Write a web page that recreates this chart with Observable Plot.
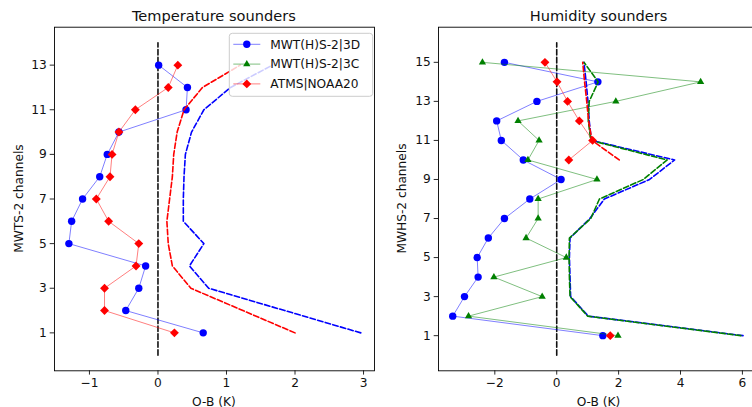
<!DOCTYPE html>
<html><head><meta charset="utf-8">
<script src="https://cdn.jsdelivr.net/npm/d3@7"></script>
<script src="https://cdn.jsdelivr.net/npm/@observablehq/plot@0.6"></script>
<style>
html,body{margin:0;padding:0;background:#fff;overflow:hidden;width:752px;height:407px}
#wrap{position:relative;width:752px;height:407px;overflow:hidden;font-family:"DejaVu Sans",sans-serif}
#wrap svg{position:absolute;top:0}
</style></head><body><div id="wrap"></div>
<script>
// ---------- data ----------
const seriesNames = ["MWT(H)S-2|3D", "MWT(H)S-2|3C", "ATMS|NOAA20"];
const titles = ["Temperature sounders", "Humidity sounders"];
const yLabels = ["MWTS-2 channels", "MWHS-2 channels"];
const xLabel = "O-B (K)";

const tempChannels = [1,2,3,4,5,6,7,8,9,10,11,12,13];
const temp3D      = [0.66,-0.47,-0.28,-0.18,-1.30,-1.26,-1.10,-0.85,-0.74,-0.57,0.41,0.43,0.01];
const temp3Dstd   = [2.96,1.85,0.74,0.46,0.67,0.37,0.37,0.38,0.40,0.49,0.67,1.06,1.67];
const tempATMS    = [0.24,-0.78,-0.78,-0.32,-0.28,-0.72,-0.90,-0.70,-0.67,-0.57,-0.33,0.15,0.29];
const tempATMSstd = [2.00,1.24,0.48,0.21,0.15,0.13,0.17,0.21,0.23,0.28,0.38,0.65,1.20];
const tempZeroLine = [0, 14];
const tempXTicks = [-1,0,1,2,3];
const tempYTicks = [1,3,5,7,9,11,13];

const humChannels = [1,2,3,4,5,6,7,8,9,10,11,12,13,14,15];
const hum3D      = [1.49,-3.36,-2.98,-2.54,-2.57,-2.21,-1.69,-0.87,0.14,-1.08,-1.79,-1.94,-0.64,1.33,-1.69];
const hum3Dstd   = [6.02,1.02,0.45,0.43,0.41,0.43,1.07,1.54,3.00,3.81,1.12,1.05,1.01,0.95,0.88];
const hum3C      = [1.98,-2.85,-0.47,-2.03,0.31,-0.99,-0.60,-0.60,1.30,-0.93,-0.57,-1.25,1.91,4.65,-2.40];
const hum3Cstd   = [5.95,1.00,0.43,0.41,0.40,0.41,1.10,1.38,2.80,3.57,1.10,1.02,1.05,1.34,0.88];
const humATMS    = [1.73,null,null,null,null,null,null,null,null,0.39,1.16,0.73,0.35,0.01,-0.38];
const humATMSstd = [4.35,null,null,null,null,null,null,null,null,2.02,1.14,1.03,0.97,0.90,0.84];
const humZeroLine = [0, 16];
const humXTicks = [-2,0,2,4,6];
const humYTicks = [1,3,5,7,9,11,13,15];

// ---------- styles ----------
const colors = ["#0000ff", "#008000", "#ff0000"];
const symbols = ["circle", "triangle", "diamond2"];
const radii = [3.7, 2.7, 4.0];
const fmt = d => d < 0 ? "\u2212" + Math.abs(d) : String(d);
const rows = (ch, v) => ch.map((c, i) => ({ch: c, v: v[i] == null ? NaN : v[i]}));

function panel({channels, series, zero, xDomain, yDomain, xTicks, yTicks, left}) {
  const marks = [
    Plot.frame({stroke: "#000", strokeWidth: 0.9}),
    Plot.axisX({ticks: xTicks, tickFormat: fmt, tickSize: 4.3, tickPadding: 3.5, label: null, strokeWidth: 0.9}),
    Plot.axisY({ticks: yTicks, tickSize: 4.3, tickPadding: 3.5, label: null, strokeWidth: 0.9}),
    Plot.line(zero.map(y => ({x: 0, y})), {x: "x", y: "y", stroke: "#111", strokeWidth: 1.6, strokeDasharray: "5.5,2.4"})
  ];
  series.forEach((s, k) => {
    if (!s) return;
    const mean = rows(channels, s.mean), std = rows(channels, s.std);
    marks.push(Plot.line(mean, {x: "v", y: "ch", stroke: colors[k], strokeOpacity: 0.5, strokeWidth: 1}));
    marks.push(Plot.dot(mean, {x: "v", y: "ch", fill: colors[k], symbol: symbols[k], r: radii[k]}));
    marks.push(Plot.line(std, {x: "v", y: "ch", stroke: colors[k], strokeWidth: 1.6, strokeDasharray: "5.5,2.4"}));
  });
  const svg = Plot.plot({
    width: 380, height: 407,
    marginLeft: 54, marginRight: 6, marginTop: 26.7, marginBottom: 36.7,
    x: {domain: xDomain}, y: {domain: yDomain},
    style: {fontSize: "12.2px", fontFamily: "DejaVu Sans", color: "#111", background: "transparent", overflow: "visible"},
    marks
  });
  svg.style.left = left + "px";
  return svg;
}

const wrap = document.getElementById("wrap");
wrap.appendChild(panel({
  channels: tempChannels,
  series: [{mean: temp3D, std: temp3Dstd}, null, {mean: tempATMS, std: tempATMSstd}],
  zero: tempZeroLine, xDomain: [-1.51, 3.16], yDomain: [-0.7, 14.7],
  xTicks: tempXTicks, yTicks: tempYTicks, left: 0
}));
wrap.appendChild(panel({
  channels: humChannels,
  series: [{mean: hum3D, std: hum3Dstd}, {mean: hum3C, std: hum3Cstd}, {mean: humATMS, std: humATMSstd}],
  zero: humZeroLine, xDomain: [-3.82, 6.52], yDomain: [-0.8, 16.8],
  xTicks: humXTicks, yTicks: humYTicks, left: 384
}));

// ---------- text overlay & legend ----------
const ov = d3.select(wrap).append("svg").attr("width", 752).attr("height", 407)
  .style("left", "0px").style("font-family", "DejaVu Sans").style("fill", "#111");
const centers = [213.9, 598.5];
titles.forEach((t, i) => ov.append("text").attr("x", centers[i]).attr("y", 20.7)
  .attr("text-anchor", "middle").style("font-size", "14.6px").text(t));
centers.forEach(c => ov.append("text").attr("x", c).attr("y", 405.5)
  .attr("text-anchor", "middle").style("font-size", "12.2px").text(xLabel));
[22.7, 406.4].forEach((x, i) => ov.append("text")
  .attr("transform", `translate(${x},198.5) rotate(-90)`)
  .attr("text-anchor", "middle").style("font-size", "12.2px").text(yLabels[i]));

const lg = ov.append("g").attr("transform", "translate(229.3,33.3)");
lg.append("rect").attr("width", 143.4).attr("height", 63).attr("rx", 3)
  .attr("fill", "#fff").attr("fill-opacity", 0.8).attr("stroke", "#ccc").attr("stroke-width", 1);
seriesNames.forEach((name, i) => {
  const y = 11 + i * 19.8;
  lg.append("line").attr("x1", 4).attr("x2", 31).attr("y1", y).attr("y2", y)
    .attr("stroke", colors[i]).attr("stroke-opacity", 0.5).attr("stroke-width", 1);
  const sym = {circle: d3.symbolCircle, triangle: d3.symbolTriangle, diamond2: d3.symbolDiamond2}[symbols[i]];
  lg.append("path").attr("d", d3.symbol(sym, Math.PI * radii[i] * radii[i])())
    .attr("transform", `translate(17.5,${y})`).attr("fill", colors[i]);
  lg.append("text").attr("x", 41).attr("y", y).attr("dy", "0.36em")
    .style("font-size", "12.2px").text(name);
});
</script></body></html>
